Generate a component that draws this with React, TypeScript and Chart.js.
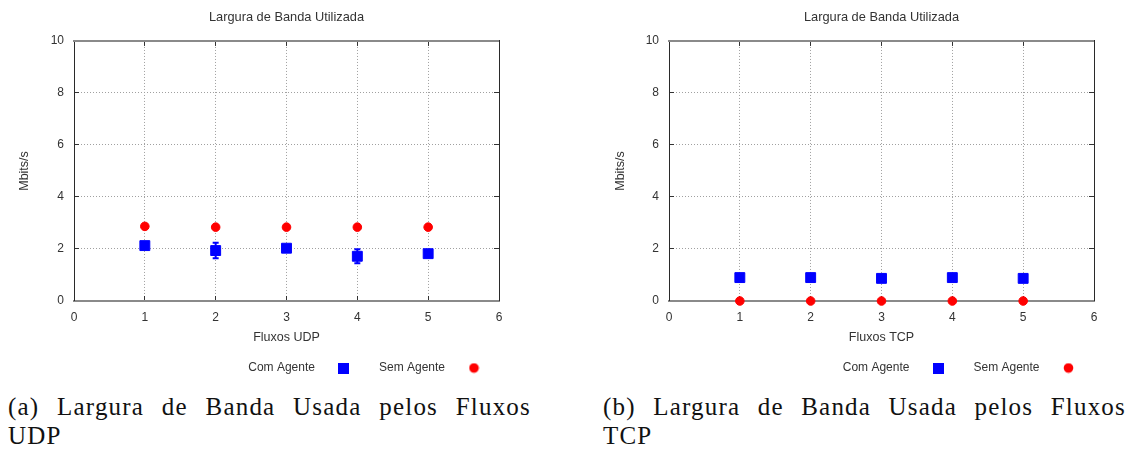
import React, { useEffect, useRef } from "react";
import { Chart, registerables } from "chart.js";

Chart.register(...registerables);

// ---------- data ----------
const flows = [1, 2, 3, 4, 5];
const xTickValues = [0, 1, 2, 3, 4, 5, 6];
const yTickValues = [0, 2, 4, 6, 8, 10];

const udpComAgente = [2.13, 1.94, 2.03, 1.72, 1.82];
const udpComAgenteErr = [0.1, 0.3, 0.08, 0.27, 0.05];
const udpSemAgente = [2.87, 2.84, 2.84, 2.84, 2.84];

const tcpComAgente = [0.9, 0.9, 0.87, 0.9, 0.87];
const tcpComAgenteErr = [0, 0, 0, 0, 0];
const tcpSemAgente = [0, 0, 0, 0, 0];

const chartTitle = "Largura de Banda Utilizada";
const yAxisTitle = "Mbits/s";
const xAxisTitles = ["Fluxos UDP", "Fluxos TCP"];
const seriesLabels = ["Com Agente", "Sem Agente"];
const captionA = ["(a) Largura de Banda Usada pelos Fluxos", "UDP"];
const captionB = ["(b) Largura de Banda Usada pelos Fluxos", "TCP"];

// ---------- style ----------
const FONT = "'Liberation Sans', Arial, sans-serif";
const TEXT = "#333333";
const BLUE = "#0000ff";
const RED = "#ff0000";
const GRID = "#a0a0a0";
const CANVAS_H = 384;

function makeMarker(kind: "square" | "circle", color: string) {
  const c = document.createElement("canvas");
  c.width = 11;
  c.height = 11;
  const g = c.getContext("2d")!;
  g.fillStyle = color;
  if (kind === "square") {
    g.fillRect(0, 0, 11, 11);
  } else {
    g.beginPath();
    g.arc(5.5, 5.5, 4.8, 0, Math.PI * 2);
    g.fill();
  }
  return c;
}

const errorBarPlugin = {
  id: "errorBars",
  beforeDatasetsDraw(chart: any, _args: any, opts: any) {
    const errs: number[] = opts && opts.errors;
    if (!errs) return;
    const ds = chart.data.datasets[0];
    const xs = chart.scales.x;
    const ys = chart.scales.y;
    const ctx = chart.ctx;
    ctx.save();
    ctx.strokeStyle = BLUE;
    ctx.lineWidth = 2;
    ds.data.forEach((p: any, i: number) => {
      const e = errs[i];
      if (!e) return;
      const px = xs.getPixelForValue(p.x);
      const top = ys.getPixelForValue(p.y + e);
      const bot = ys.getPixelForValue(p.y - e);
      ctx.beginPath();
      ctx.moveTo(px, top);
      ctx.lineTo(px, bot);
      ctx.moveTo(px - 3, top);
      ctx.lineTo(px + 3, top);
      ctx.moveTo(px - 3, bot);
      ctx.lineTo(px + 3, bot);
      ctx.stroke();
    });
    ctx.restore();
  },
};

type Spec = {
  left: number;
  width: number;
  yAxisWidth: number;
  yTitlePad: number;
  rightAxisWidth: number;
  padRight: number;
  xTitle: string;
  com: number[];
  comErr: number[];
  sem: number[];
};

const specs: Spec[] = [
  {
    left: 0,
    width: 566,
    yAxisWidth: 74,
    yTitlePad: 17.5,
    rightAxisWidth: 10,
    padRight: 57,
    xTitle: xAxisTitles[0],
    com: udpComAgente,
    comErr: udpComAgenteErr,
    sem: udpSemAgente,
  },
  {
    left: 580,
    width: 552,
    yAxisWidth: 89,
    yTitlePad: 33.2,
    rightAxisWidth: 9.5,
    padRight: 28.5,
    xTitle: xAxisTitles[1],
    com: tcpComAgente,
    comErr: tcpComAgenteErr,
    sem: tcpSemAgente,
  },
];

function setTicks(values: number[]) {
  return (scale: any) => {
    scale.ticks = values.map((v) => ({ value: v }));
  };
}

function gridColor(values: number[]) {
  const lo = values[0];
  const hi = values[values.length - 1];
  return (c: any) =>
    c.tick && (c.tick.value === lo || c.tick.value === hi) ? "rgba(0,0,0,0)" : GRID;
}

function buildConfig(spec: Spec): any {
  const markers = [makeMarker("square", BLUE), makeMarker("circle", RED)];
  const font = { family: FONT, size: 12 };
  const axisTitleFont = { family: FONT, size: 12.5 };
  return {
    type: "scatter",
    data: {
      datasets: [
        {
          label: seriesLabels[0],
          data: flows.map((x, i) => ({ x, y: spec.com[i] })),
          pointStyle: "rect",
          pointRadius: 7,
          backgroundColor: BLUE,
          borderColor: BLUE,
          borderWidth: 1,
          showLine: false,
          clip: false,
        },
        {
          label: seriesLabels[1],
          data: flows.map((x, i) => ({ x, y: spec.sem[i] })),
          pointStyle: "circle",
          pointRadius: 4.3,
          backgroundColor: RED,
          borderColor: RED,
          borderWidth: 1,
          showLine: false,
          clip: false,
        },
      ],
    },
    plugins: [errorBarPlugin],
    options: {
      responsive: false,
      animation: false,
      devicePixelRatio: 1,
      events: [],
      layout: { padding: { left: 0, right: spec.padRight, top: 0, bottom: 0 } },
      plugins: {
        errorBars: { errors: spec.comErr },
        tooltip: { enabled: false },
        title: {
          display: true,
          text: chartTitle,
          fullSize: false,
          color: TEXT,
          font: { family: FONT, size: 12.8, weight: "normal", lineHeight: 1.2 },
          padding: { top: 9.6, bottom: 16.0 },
        },
        legend: {
          display: true,
          position: "bottom",
          fullSize: true,
          align: "start",
          rtl: true,
          reverse: true,
          textDirection: "ltr",
          labels: {
            usePointStyle: true,
            pointStyleWidth: 46,
            padding: 12,
            color: TEXT,
            font,
            generateLabels: (chart: any) =>
              chart.data.datasets.map((ds: any, i: number) => ({
                text: ds.label,
                pointStyle: markers[i],
                fillStyle: ds.backgroundColor,
                strokeStyle: ds.borderColor,
                lineWidth: 0,
                hidden: false,
                datasetIndex: i,
                fontColor: TEXT,
              })),
          },
        },
      },
      scales: {
        x: {
          type: "linear",
          position: "bottom",
          min: 0,
          max: 6,
          afterBuildTicks: setTicks(xTickValues),
          afterFit: (s: any) => {
            s.height = 49;
          },
          ticks: { color: TEXT, font, padding: 14 },
          grid: {
            color: gridColor(xTickValues),
            lineWidth: 1,
            drawTicks: true,
            tickLength: -5,
            tickColor: "#333333",
            tickWidth: 1,
          },
          border: { display: true, color: "#8a8a8a", width: 2, dash: [1, 2] },
          title: {
            display: true,
            text: spec.xTitle,
            color: TEXT,
            font: axisTitleFont,
            padding: { top: 0, bottom: 4.5 },
          },
        },
        y: {
          type: "linear",
          position: "left",
          min: 0,
          max: 10,
          afterBuildTicks: setTicks(yTickValues),
          afterFit: (s: any) => {
            s.width = spec.yAxisWidth;
          },
          ticks: { color: TEXT, font, padding: 15 },
          grid: {
            color: gridColor(yTickValues),
            lineWidth: 1,
            drawTicks: true,
            tickLength: -5,
            tickColor: "#333333",
            tickWidth: 1,
          },
          border: { display: true, color: "#2a2a2a", width: 1, dash: [1, 2] },
          title: {
            display: true,
            text: yAxisTitle,
            color: TEXT,
            font: axisTitleFont,
            padding: { top: spec.yTitlePad, bottom: 0 },
          },
        },
        x2: {
          type: "linear",
          position: "top",
          min: 0,
          max: 6,
          afterBuildTicks: setTicks(xTickValues),
          afterFit: (s: any) => {
            s.height = 0;
          },
          ticks: { display: false },
          grid: {
            display: true,
            drawOnChartArea: false,
            drawTicks: true,
            tickLength: -5,
            tickColor: "#333333",
          },
          border: { display: true, color: "#8a8a8a", width: 2 },
        },
        y2: {
          type: "linear",
          position: "right",
          min: 0,
          max: 10,
          afterBuildTicks: setTicks(yTickValues),
          afterFit: (s: any) => {
            s.width = spec.rightAxisWidth;
          },
          ticks: { display: false },
          grid: {
            display: true,
            drawOnChartArea: false,
            drawTicks: true,
            tickLength: -5,
            tickColor: "#333333",
          },
          border: { display: true, color: "#2a2a2a", width: 1 },
        },
      },
    },
  };
}

function Panel({ spec }: { spec: Spec }) {
  const ref = useRef<HTMLCanvasElement>(null);
  useEffect(() => {
    const chart = new Chart(ref.current as HTMLCanvasElement, buildConfig(spec));
    return () => chart.destroy();
  }, [spec]);
  return (
    <canvas
      ref={ref}
      width={spec.width}
      height={CANVAS_H}
      style={{
        position: "absolute",
        left: spec.left,
        top: 0,
        width: spec.width,
        height: CANVAS_H,
      }}
    />
  );
}

function Caption({ lines, left }: { lines: string[]; left: number }) {
  return (
    <div
      style={{
        position: "absolute",
        left,
        top: 393.3,
        width: 523,
        fontFamily: "'Liberation Serif', 'Times New Roman', serif",
        fontSize: 25,
        letterSpacing: "1.2px",
        lineHeight: "28.5px",
        color: "#111111",
      }}
    >
      <div style={{ textAlign: "justify", textAlignLast: "justify" } as any}>{lines[0]}</div>
      <div>{lines[1]}</div>
    </div>
  );
}

export default function App() {
  return (
    <div
      style={{
        position: "absolute",
        left: 0,
        top: 0,
        width: 1132,
        height: 452,
        background: "#ffffff",
        overflow: "hidden",
      }}
    >
      <Panel spec={specs[0]} />
      <Panel spec={specs[1]} />
      <Caption lines={captionA} left={8} />
      <Caption lines={captionB} left={603} />
    </div>
  );
}
